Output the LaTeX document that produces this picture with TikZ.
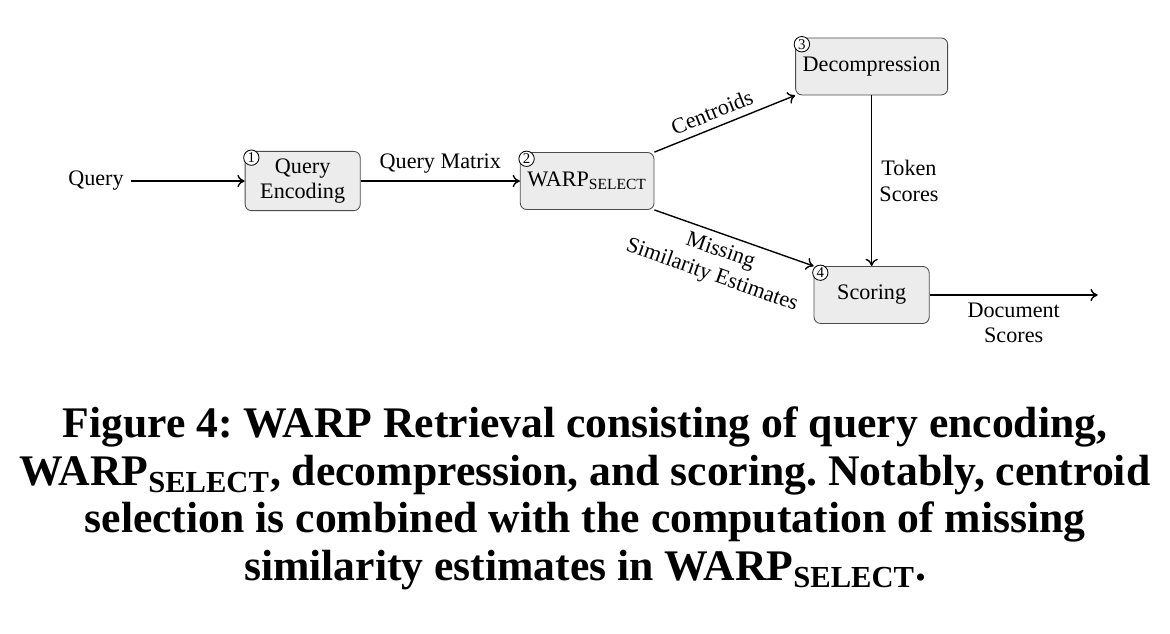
\documentclass[tikz,border=0pt]{standalone}
\usepackage{fontspec}
\setmainfont{Liberation Serif}
\frenchspacing
\usetikzlibrary{positioning, arrows.meta}
\tikzstyle{block} = [rectangle, draw=black!70, fill=gray!15, align=center,
    rounded corners=3pt, minimum width=1.9cm, minimum height=0.94cm]
\tikzstyle{line} = [draw, line width=0.65pt, -{To[length=3.4pt, width=5.8pt]}]
\tikzstyle{num} = [circle, draw, fill=white, inner sep=0.5pt, anchor=center,
    shift={(0.11,-0.11)}, font=\fontsize{7}{7}\selectfont]

\begin{document}
\begin{tikzpicture}[on grid, auto]
\tikzstyle{every node}=[font=\fontsize{10.4}{12}\selectfont]
\useasboundingbox (0,0) rectangle (19.305,-10.461);
\node (query) at (1.584,-2.987) {Query};
\node[block, right=3.41cm of query, label={[num]north west:1}] (enc) {Query\\Encoding};
\node[block, right=4.694cm of enc, label={[num]north west:2}] (warp) {WARP\textsubscript{SELECT}};
\node[block, above right=1.89cm and 4.694cm of warp, label={[num]north west:3}] (dec) {Decompression};
\node[block, below=3.77cm of dec, label={[num]north west:4}] (score) {Scoring};
\coordinate[right=3.73cm of score] (out);
\path [line] (query) -- (enc);
\path [line] (enc) -- node[above] {Query Matrix} (warp);
\path [line] (warp.north east) -- node[above, sloped, pos=0.45] {Centroids} (dec.south west);
\path [line] (warp.south east) -- node[below, sloped, align=center, pos=0.45] {Missing\\Similarity Estimates} (score.north west);
\path [line] (dec) -- node[right, align=center] {Token\\Scores} (score);
\path [line] (score) -- node[below, align=center] {Document\\Scores} (out);
% caption
\node[align=center, font=\fontsize{20.5}{22.3}\selectfont\bfseries] (caption) at (9.653,-8.225)
  {Figure 4: WARP Retrieval consisting of query encoding,\\
   WARP\textsubscript{SELECT}, decompression, and scoring. Notably, centroid\\
   selection is combined with the computation of missing\\
   similarity estimates in WARP\textsubscript{SELECT}.};
\end{tikzpicture}
\end{document}
